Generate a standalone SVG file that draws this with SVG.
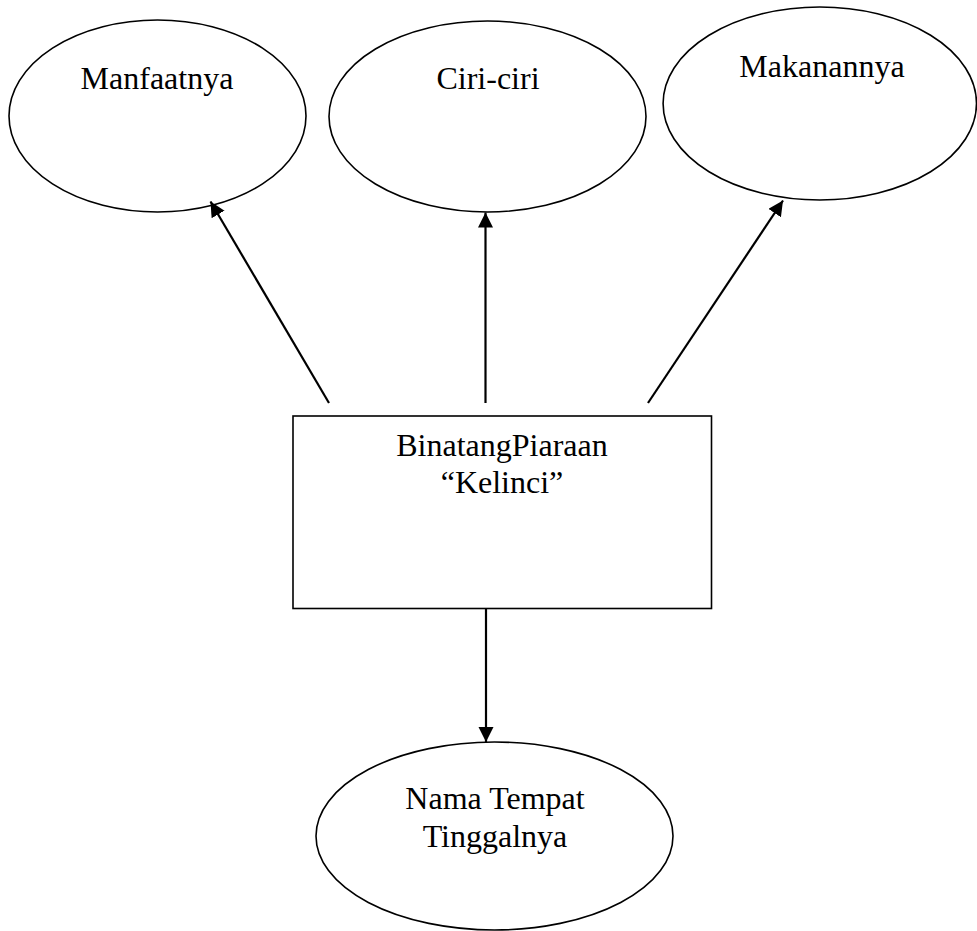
<svg xmlns="http://www.w3.org/2000/svg" width="977" height="931" viewBox="0 0 977 931">
  <style>
    .shape { fill: #ffffff; stroke: #000000; stroke-width: 1.6; }
    .label { font-family: "Liberation Serif", "Times New Roman", serif; font-size: 32px; fill: #000000; text-anchor: middle; }
    .conn { stroke: #000000; stroke-width: 2.2; fill: none; marker-end: url(#arrow); }
  </style>
  <defs>
    <marker id="arrow" markerUnits="userSpaceOnUse" markerWidth="16" markerHeight="16" refX="15" refY="7.5" orient="auto">
      <path d="M0,0 L15,7.5 L0,15 z" fill="#000000"/>
    </marker>
  </defs>
  <rect width="977" height="931" fill="#ffffff"/>

  <g id="node-manfaatnya">
    <ellipse class="shape" cx="157.5" cy="116" rx="148.5" ry="96"/>
    <text class="label" x="157" y="89">Manfaatnya</text>
  </g>
  <g id="node-ciri">
    <ellipse class="shape" cx="487.5" cy="116.5" rx="158.5" ry="95.5"/>
    <text class="label" x="488" y="89">Ciri-ciri</text>
  </g>
  <g id="node-makanannya">
    <ellipse class="shape" cx="819.8" cy="103.5" rx="156.7" ry="96.5"/>
    <text class="label" x="822" y="77">Makanannya</text>
  </g>
  <g id="node-center">
    <rect class="shape" x="293" y="416" width="418.5" height="192.5"/>
    <text class="label" x="502" y="456">BinatangPiaraan</text>
    <text class="label" x="502" y="493">“Kelinci”</text>
  </g>
  <g id="node-tempat">
    <ellipse class="shape" cx="494.5" cy="836" rx="178.5" ry="94"/>
    <text class="label" x="495" y="809">Nama Tempat</text>
    <text class="label" x="495" y="847">Tinggalnya</text>
  </g>

  <g id="connectors">
    <line class="conn" x1="329" y1="403" x2="210.5" y2="201.5"/>
    <line class="conn" x1="485.5" y1="403" x2="485.5" y2="212.5"/>
    <line class="conn" x1="648" y1="403" x2="783" y2="200.5"/>
    <line class="conn" x1="486" y1="608.5" x2="486" y2="742"/>
  </g>
</svg>
